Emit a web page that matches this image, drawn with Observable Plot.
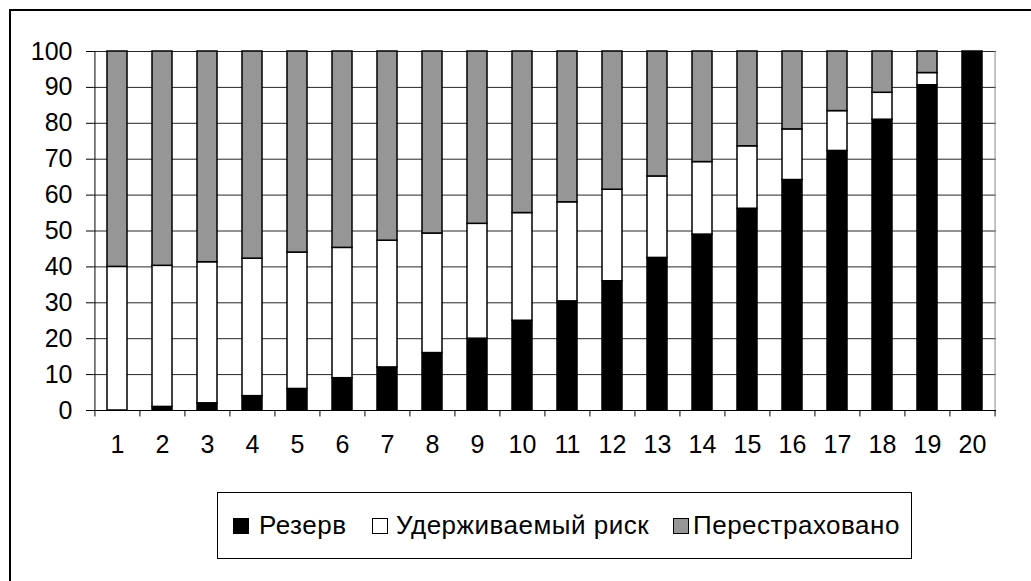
<!DOCTYPE html>
<html>
<head>
<meta charset="utf-8">
<script src="https://cdn.jsdelivr.net/npm/d3@7"></script>
<script src="https://cdn.jsdelivr.net/npm/@observablehq/plot@0.6"></script>
<style>
  html, body { margin: 0; padding: 0; background: #fff; overflow: hidden; width: 1031px; height: 581px; }
  body { position: relative; font-family: "Liberation Sans", Arial, sans-serif; }
  #frame { position: absolute; left: 9px; top: 9px; width: 1200px; height: 800px; border: 2px solid #000; box-sizing: border-box; }
  #chart { position: absolute; left: 0; top: 0; }
  #legend { position: absolute; left: 217px; top: 492px; width: 695px; height: 67px; border: 1px solid #000; box-sizing: border-box; background: #fff;
            font-size: 26px; letter-spacing: 0.5px; color: #000; }
  .sw { position: absolute; top: 25px; width: 14px; height: 14px; border: 1px solid #000; }
  .lt { position: absolute; top: 0; height: 65px; line-height: 65px; white-space: nowrap; }
</style>
</head>
<body>
<div id="frame"></div>
<div id="chart"></div>
<div id="legend"></div>
<script>
const categories = ["1","2","3","4","5","6","7","8","9","10","11","12","13","14","15","16","17","18","19","20"];
const seriesNames = ["Резерв", "Удерживаемый риск", "Перестраховано"];
const seriesColors = ["#000000", "#ffffff", "#969696"];
const reserve   = [0, 1, 2, 4, 6, 9, 12, 16, 20, 25, 30.4, 36, 42.5, 49, 56.2, 64.2, 72.3, 81, 90.6, 100];
const retained  = [40, 39.3, 39.3, 38.3, 38, 36.3, 35.3, 33.3, 32, 30, 27.6, 25.5, 22.7, 20.2, 17.4, 14.1, 11.1, 7.5, 3.4, 0];
const reinsured = [60, 59.7, 58.7, 57.7, 56, 54.7, 52.7, 50.7, 48, 45, 42, 38.5, 34.8, 30.8, 26.4, 21.7, 16.6, 11.5, 6, 0];
const yTicks = [0, 10, 20, 30, 40, 50, 60, 70, 80, 90, 100];

const seriesValues = [reserve, retained, reinsured];
const data = [];
seriesNames.forEach((s, si) => categories.forEach((c, i) => data.push({cat: c, series: s, value: seriesValues[si][i]})));

const W = 1031, H = 480, mL = 93, mR = 35, mT = 51, mB = 70;
const step = (W - mL - mR) / categories.length;

const chart = Plot.plot({
  width: W, height: H,
  marginLeft: mL, marginRight: mR, marginTop: mT, marginBottom: mB,
  style: {fontFamily: "'Liberation Sans', Arial, sans-serif", color: "#000", background: "transparent", overflow: "visible"},
  x: {domain: categories, paddingInner: 0.56, paddingOuter: 0.28},
  y: {domain: [0, 100]},
  color: {domain: seriesNames, range: seriesColors},
  marks: [
    Plot.gridY(yTicks, {stroke: "#000", strokeOpacity: 0.85, strokeWidth: 1}),
    Plot.ruleX([categories[categories.length - 1]], {x: d => d, dx: step / 2, y1: 0, y2: 100, stroke: "#888"}),
    Plot.barY(data, {x: "cat", y: "value", fill: "series", z: "series", order: seriesNames, stroke: "#000", strokeWidth: 1.5}),
    Plot.ruleY([0], {stroke: "#000"}),
    Plot.ruleX([categories[0]], {x: d => d, dx: -step / 2, y1: 0, y2: 100, stroke: "#000"}),
    Plot.ruleX(categories, {x: d => d, dx: -step / 2, y1: 0, y2: -1.8, stroke: "#000"}),
    Plot.ruleX([categories[categories.length - 1]], {x: d => d, dx: step / 2, y1: 0, y2: -1.8, stroke: "#000"}),
    Plot.axisY(yTicks, {tickSize: 7, tickPadding: 14, fontSize: 25, label: null, stroke: "#000", fill: "#000"}),
    Plot.axisX({tickSize: 0, tickPadding: 25, fontSize: 25, label: null, fill: "#000"})
  ]
});
document.getElementById("chart").appendChild(chart);

// legend
const legend = document.getElementById("legend");
const swLeft = [15, 154, 455];
const textLeft = [41, 178, 475];
seriesNames.forEach((s, i) => {
  const sw = document.createElement("div");
  sw.className = "sw";
  sw.style.left = swLeft[i] + "px";
  sw.style.background = seriesColors[i];
  legend.appendChild(sw);
  const t = document.createElement("div");
  t.className = "lt";
  t.style.left = textLeft[i] + "px";
  t.textContent = s;
  legend.appendChild(t);
});
</script>
</body>
</html>
